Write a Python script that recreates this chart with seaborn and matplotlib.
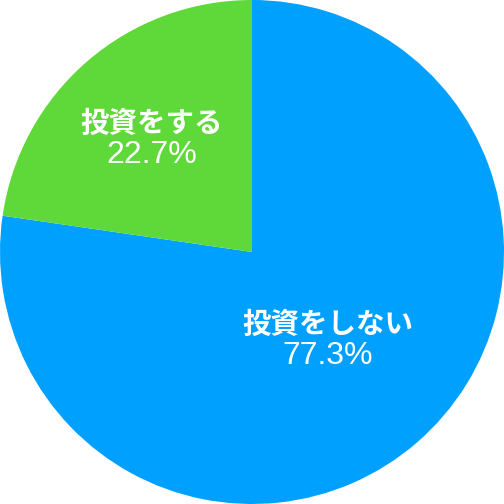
"""Pie chart: 投資をする / 投資をしない share."""
import matplotlib
matplotlib.use("Agg")
import matplotlib.pyplot as plt
import seaborn as sns

labels = ["投資をしない", "投資をする"]
shares = [77.3, 22.7]
colors = ["#00A0FF", "#5FD83A"]
label_pos = [(0.30, -0.351), (-0.397, 0.446)]

sns.set_theme(style="white")
plt.rcParams["font.family"] = ["Noto Sans CJK JP", "DejaVu Sans"]

fig, ax = plt.subplots(figsize=(7, 7), dpi=72)
fig.subplots_adjust(left=0, right=1, bottom=0, top=1)
ax.pie(shares, colors=colors, startangle=90, counterclock=False,
       radius=1.0, wedgeprops=dict(linewidth=0))
for lab, val, (x, y) in zip(labels, shares, label_pos):
    ax.text(x, y + 0.062, lab, ha="center", va="center", color="white",
            fontsize=28.5, fontweight="bold")
    ax.text(x, y - 0.062, f"{val:.1f}%", ha="center", va="center",
            color="white", fontsize=32, family=["Liberation Sans", "DejaVu Sans"])
ax.set_xlim(-1, 1)
ax.set_ylim(-1, 1)
ax.set_aspect("equal")
ax.axis("off")
plt.savefig("out.png", dpi=72, facecolor="white")
